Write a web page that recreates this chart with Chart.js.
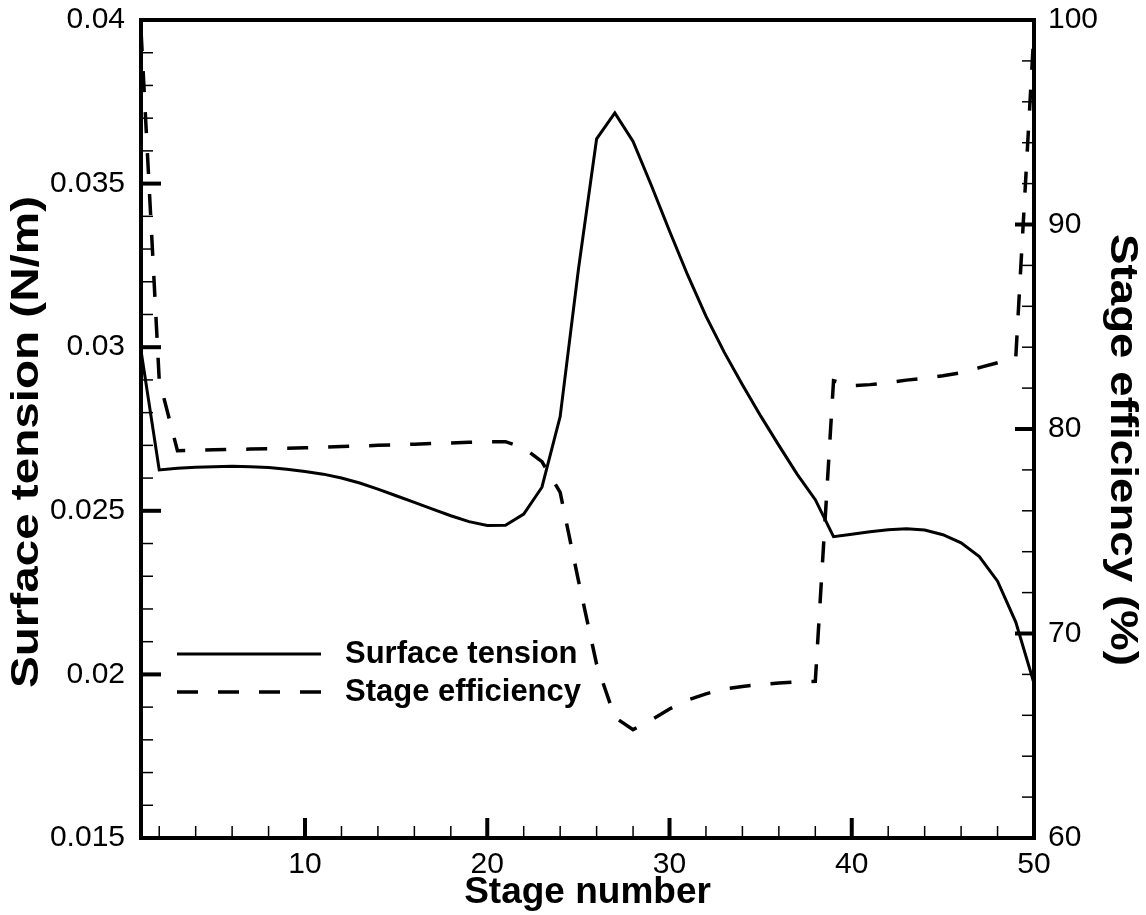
<!DOCTYPE html>
<html>
<head>
<meta charset="utf-8">
<script src="https://cdn.jsdelivr.net/npm/chart.js@4"></script>
<style>
  body { margin: 0; background: #fff; }
  #wrap { width: 1146px; height: 915px; }
</style>
</head>
<body>
<div id="wrap"><canvas id="chart" width="1146" height="915"></canvas></div>
<script>
// data
const stages = [1, 2, 3, 4, 5, 6, 7, 8, 9, 10, 11, 12, 13, 14, 15, 16, 17, 18, 19, 20,
  21, 22, 23, 24, 25, 26, 27, 28, 29, 30, 31, 32, 33, 34, 35, 36, 37, 38, 39, 40,
  41, 42, 43, 44, 45, 46, 47, 48, 49, 50];
const surfaceTension = [0.0299, 0.02625, 0.0263, 0.02633, 0.02635, 0.02636, 0.02635, 0.02632, 0.02627, 0.0262,
  0.02612, 0.026, 0.02585, 0.02566, 0.02546, 0.02526, 0.02505, 0.02485, 0.02467, 0.02455,
  0.02456, 0.0249, 0.02572, 0.02788, 0.03237, 0.03637, 0.03716, 0.03629, 0.03495, 0.03355,
  0.0322, 0.03095, 0.02985, 0.02885, 0.0279, 0.027, 0.02612, 0.02534, 0.02421, 0.02428,
  0.02436, 0.02442, 0.02445, 0.02441, 0.02427, 0.02402, 0.0236, 0.02285, 0.0216, 0.01973];
const stageEfficiency = [99.5, 82.4, 78.94, 78.96, 78.98, 79.0, 79.02, 79.04, 79.06, 79.08,
  79.11, 79.14, 79.17, 79.2, 79.23, 79.26, 79.29, 79.32, 79.35, 79.38,
  79.38, 79.08, 78.4, 76.9, 72.6, 68.5, 65.9, 65.3, 65.77, 66.31,
  66.75, 67.05, 67.29, 67.41, 67.51, 67.58, 67.63, 67.66, 82.36, 82.12,
  82.17, 82.26, 82.39, 82.48, 82.6, 82.75, 83.0, 83.24, 83.5, 99.5];

const xTicks = [10, 20, 30, 40, 50];
const leftTicks = [0.015, 0.02, 0.025, 0.03, 0.035, 0.04];
const rightTicks = [60, 70, 80, 90, 100];

const leftTitle = 'Surface tension (N/m)';
const rightTitle = 'Stage efficiency (%)';

const FONT = '"Liberation Sans", Arial, sans-serif';

// frame + inward major/minor ticks, like the tecplot original
const framePlugin = {
  id: 'frame',
  afterDatasetsDraw(chart) {
    const ctx = chart.ctx;
    const a = chart.chartArea;
    const sx = chart.scales.x, sl = chart.scales.y, sr = chart.scales.y1;
    ctx.save();
    ctx.strokeStyle = '#000';
    ctx.lineCap = 'butt';

    function tick(x1, y1, x2, y2, w) {
      ctx.lineWidth = w;
      ctx.beginPath();
      ctx.moveTo(x1, y1);
      ctx.lineTo(x2, y2);
      ctx.stroke();
    }
    // x axis: minor every 2, major every 10
    for (let v = 2; v <= 50; v += 2) {
      const px = sx.getPixelForValue(v);
      const major = v % 10 === 0;
      tick(px, a.bottom, px, a.bottom - (major ? 20 : 12), major ? 4 : 1.5);
    }
    // left axis: minor every 0.001
    for (let i = 0; i <= 25; i++) {
      const py = sl.getPixelForValue(0.015 + i * 0.001);
      const major = i % 5 === 0;
      tick(a.left, py, a.left + (major ? 20 : 12), py, major ? 4 : 1.5);
    }
    // right axis: minor every 2
    for (let v = 60; v <= 100; v += 2) {
      const py = sr.getPixelForValue(v);
      const major = v % 10 === 0;
      tick(a.right, py, a.right - (major ? 19 : 12), py, major ? 4 : 1.5);
    }
    ctx.lineWidth = 4;
    ctx.strokeRect(a.left, a.top, a.right - a.left, a.bottom - a.top);
    ctx.restore();
  }
};

// rotated axis titles; the original's glyphs are stretched along the text, so scale them
function sideTitle(ctx, text, cx, cy, angle, length) {
  ctx.save();
  ctx.translate(cx, cy);
  ctx.rotate(angle);
  const w = ctx.measureText(text).width;
  ctx.scale(length / w, 1);
  ctx.fillText(text, 0, 0);
  ctx.restore();
}

const titlesPlugin = {
  id: 'sideTitles',
  afterDraw(chart) {
    const ctx = chart.ctx;
    ctx.save();
    ctx.fillStyle = '#000';
    ctx.font = 'bold 38px ' + FONT;
    ctx.textAlign = 'center';
    ctx.textBaseline = 'middle';
    sideTitle(ctx, leftTitle, 28, 442, -Math.PI / 2, 492);
    sideTitle(ctx, rightTitle, 1121, 450, Math.PI / 2, 432);
    ctx.restore();
  }
};

// legend inside the plot, lower left
const legendPlugin = {
  id: 'innerLegend',
  afterDatasetsDraw(chart) {
    const ctx = chart.ctx;
    const rows = [654, 692];
    ctx.save();
    chart.data.datasets.forEach((ds, i) => {
      const y = rows[i];
      ctx.strokeStyle = ds.borderColor;
      ctx.lineWidth = ds.borderWidth;
      ctx.setLineDash(ds.borderDash || []);
      ctx.beginPath();
      ctx.moveTo(177, y);
      ctx.lineTo(321, y);
      ctx.stroke();
      ctx.setLineDash([]);
      ctx.fillStyle = '#000';
      ctx.font = 'bold 31px ' + FONT;
      ctx.textBaseline = 'middle';
      ctx.textAlign = 'left';
      ctx.fillText(ds.label, 345, y);
    });
    ctx.restore();
  }
};

const ctx = document.getElementById('chart').getContext('2d');
const chart = new Chart(ctx, {
  type: 'line',
  data: {
    datasets: [{
      label: 'Surface tension',
      data: stages.map((s, i) => ({ x: s, y: surfaceTension[i] })),
      yAxisID: 'y',
      borderColor: '#000',
      borderWidth: 3,
      pointRadius: 0,
      tension: 0,
      fill: false
    }, {
      label: 'Stage efficiency',
      data: stages.map((s, i) => ({ x: s, y: stageEfficiency[i] })),
      yAxisID: 'y1',
      borderColor: '#000',
      borderWidth: 3.5,
      borderDash: [21, 20],
      pointRadius: 0,
      tension: 0,
      fill: false
    }]
  },
  options: {
    responsive: false,
    animation: false,
    layout: { padding: { top: 20, left: 0, right: 0, bottom: 0 } },
    plugins: {
      legend: { display: false },
      tooltip: { enabled: false }
    },
    scales: {
      x: {
        type: 'linear',
        min: 1,
        max: 50,
        afterBuildTicks: s => { s.ticks = xTicks.map(v => ({ value: v })); },
        afterFit: s => { s.height = 77; s.paddingLeft = 0; s.paddingRight = 0; },
        grid: { display: false, drawTicks: false },
        border: { display: false },
        ticks: {
          autoSkip: false,
          maxRotation: 0,
          padding: 9,
          color: '#000',
          font: { family: FONT, size: 30 }
        },
        title: {
          display: true,
          text: 'Stage number',
          color: '#000',
          padding: { top: 0, bottom: 0 },
          font: { family: FONT, size: 37, weight: 'bold' }
        }
      },
      y: {
        position: 'left',
        min: 0.015,
        max: 0.04,
        afterBuildTicks: s => { s.ticks = leftTicks.map(v => ({ value: v })); },
        afterFit: s => { s.width = 141; s.paddingTop = 0; s.paddingBottom = 0; },
        grid: { display: false, drawTicks: false },
        border: { display: false },
        ticks: {
          autoSkip: false,
          padding: 16,
          color: '#000',
          font: { family: FONT, size: 30 },
          callback: v => String(Number(v.toFixed(3)))
        }
      },
      y1: {
        position: 'right',
        min: 60,
        max: 100,
        afterBuildTicks: s => { s.ticks = rightTicks.map(v => ({ value: v })); },
        afterFit: s => { s.width = 112; s.paddingTop = 0; s.paddingBottom = 0; },
        grid: { display: false, drawTicks: false },
        border: { display: false },
        ticks: {
          autoSkip: false,
          padding: 14,
          color: '#000',
          font: { family: FONT, size: 30 }
        }
      }
    }
  },
  plugins: [framePlugin, legendPlugin, titlesPlugin]
});
</script>
</body>
</html>
